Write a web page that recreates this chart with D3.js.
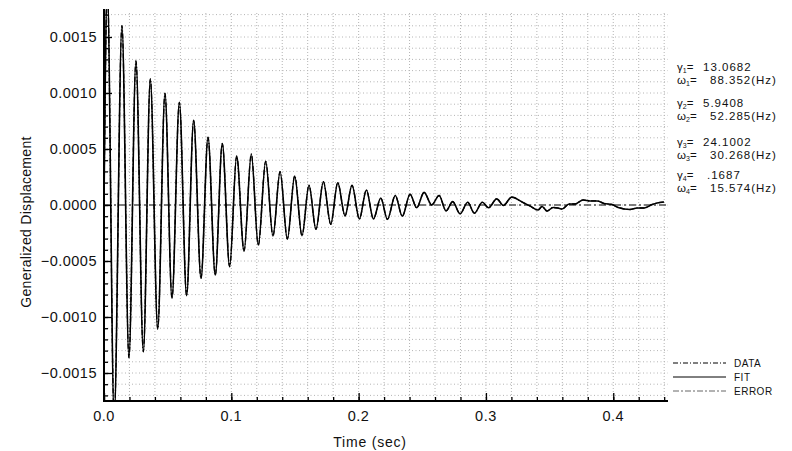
<!DOCTYPE html>
<html>
<head>
<meta charset="utf-8">
<script src="https://d3js.org/d3.v7.min.js"></script>
<style>
  body { margin: 0; background: #fff; }
  text { font-family: Arial, "Liberation Sans", sans-serif; fill: #111; }
</style>
</head>
<body>
<script>

// Fit curve: turning points (time in s, displacement)
var fitTime = [0, 0.0026, 0.0080, 0.0141, 0.0196, 0.0251, 0.0309, 0.0364, 0.0422, 0.0479,
  0.0534, 0.0592, 0.0649, 0.0704, 0.0762, 0.0817, 0.0874, 0.0929, 0.0987, 0.1042,
  0.1100, 0.1157, 0.1212, 0.1270, 0.1327, 0.1383, 0.1440, 0.1498, 0.1555, 0.1610,
  0.1665, 0.1723, 0.1781, 0.1836, 0.1893, 0.1948, 0.2006, 0.2061, 0.2116, 0.2174,
  0.2226, 0.2288, 0.2343, 0.2404, 0.2456, 0.2514, 0.2574, 0.2632, 0.2687, 0.2739,
  0.2797, 0.2857, 0.2909, 0.2972, 0.3020, 0.3085, 0.3137, 0.3202, 0.3291, 0.3346,
  0.3409, 0.3441, 0.3480, 0.3527, 0.3566, 0.3598, 0.3653, 0.3700, 0.3763, 0.3818,
  0.3873, 0.3928, 0.3991, 0.4038, 0.4132, 0.4187, 0.4242, 0.4305, 0.4344, 0.4399];
var fitValue = [0, 0.00195, -0.00190, 0.001601, -0.001363, 0.001286, -0.001310, 0.001125, -0.001107, 0.000997,
  -0.000833, 0.000917, -0.000810, 0.000756, -0.000655, 0.000604, -0.000625, 0.000548, -0.000550, 0.000436,
  -0.000411, 0.000455, -0.000360, 0.000390, -0.000277, 0.000297, -0.000304, 0.000259, -0.000274, 0.000176,
  -0.000217, 0.000208, -0.000172, 0.000199, -0.000096, 0.000176, -0.000125, 0.000134, -0.000125, 0.000062,
  -0.000128, 0.000085, -0.000100, 0.000096, -0.000025, 0.000113, 0.000000, 0.000085, -0.000052, 0.000030,
  -0.000078, 0.000024, -0.000073, 0.000024, -0.000025, 0.000055, -0.000004, 0.000070, 0.000022, -0.000009,
  -0.000045, -0.000013, -0.000054, -0.000022, -0.000027, -0.000036, 0.000009, 0.000009, 0.000045, 0.000036,
  0.000036, 0.000013, 0.000004, -0.000022, -0.000040, -0.000027, -0.000027, 0.000004, 0.000018, 0.000027];

// Error curve stays on zero across the record
var errorTime = [0, 0.443];
var errorValue = [0, 0];

// Tick labels
var xTicks = [0, 0.1, 0.2, 0.3, 0.4];
var yTicks = [-0.0015, -0.0010, -0.0005, 0, 0.0005, 0.0010, 0.0015];

// Fitted parameters
var modeGamma = ["13.0682", "5.9408", "24.1002", ".1687"];
var modeOmega = ["88.352(Hz)", "52.285(Hz)", "30.268(Hz)", "15.574(Hz)"];
var legendNames = ["DATA", "FIT", "ERROR"];

var W = 792, H = 451;
var plotL = 104, plotR = 668, plotT = 9, plotB = 401;

var x = d3.scaleLinear().domain([0, 0.443]).range([plotL, plotR]);
var y = d3.scaleLinear().domain([-0.00175, 0.00175]).range([plotB, plotT]);

var svg = d3.select("body").append("svg")
    .attr("width", W)
    .attr("height", H);

// grid, dotted
var gx = d3.range(1, 23).map(function(i) { return i * 0.02; });
var gy = d3.range(-17, 18).map(function(i) { return i * 0.0001; });

svg.append("g").selectAll("line").data(gx).enter().append("line")
    .attr("x1", function(d) { return x(d); }).attr("x2", function(d) { return x(d); })
    .attr("y1", plotT + 4).attr("y2", plotB)
    .attr("stroke", "#b4b4b4").attr("stroke-width", 1)
    .attr("stroke-dasharray", "1,2");

svg.append("g").selectAll("line").data(gy).enter().append("line")
    .attr("x1", plotL).attr("x2", plotR)
    .attr("y1", function(d) { return y(d); }).attr("y2", function(d) { return y(d); })
    .attr("stroke", "#b4b4b4").attr("stroke-width", 1)
    .attr("stroke-dasharray", "1,2.5");

// clip for the curves
svg.append("clipPath").attr("id", "plot")
  .append("rect").attr("x", plotL).attr("y", plotT)
    .attr("width", plotR - plotL).attr("height", plotB - plotT);

var line = d3.line()
    .x(function(d) { return x(d[0]); })
    .y(function(d) { return y(d[1]); })
    .curve(d3.curveMonotoneX);

var fitPts = d3.zip(fitTime, fitValue);
var errPts = d3.zip(errorTime, errorValue);

// error (dash-dot, grey)
svg.append("path").datum(errPts)
    .attr("clip-path", "url(#plot)")
    .attr("d", line)
    .attr("fill", "none").attr("stroke", "#555").attr("stroke-width", 1.3)
    .attr("stroke-dasharray", "7,3,2,3");

// data (dash-dot) sits under the fit
svg.append("path").datum(fitPts)
    .attr("clip-path", "url(#plot)")
    .attr("d", line)
    .attr("fill", "none").attr("stroke", "#000").attr("stroke-width", 1.3)
    .attr("stroke-dasharray", "5,2,1,2");

// fit
svg.append("path").datum(fitPts)
    .attr("clip-path", "url(#plot)")
    .attr("d", line)
    .attr("fill", "none").attr("stroke", "#000").attr("stroke-width", 1.6);

// axes with inward ticks
var xMinor = d3.range(0, 23).map(function(i) { return i * 0.02; });
var yMinor = d3.range(-17, 18).map(function(i) { return i * 0.0001; });

svg.append("g").attr("transform", "translate(0," + plotB + ")")
    .call(d3.axisTop(x).tickValues(xMinor).tickSize(4).tickFormat(""))
    .call(function(g) { g.select(".domain").remove(); })
    .selectAll("line").attr("stroke", "#000").attr("stroke-width", 1.3);

svg.append("g").attr("transform", "translate(0," + plotB + ")")
    .call(d3.axisTop(x).tickValues(xTicks).tickSize(8).tickFormat(""))
    .call(function(g) { g.select(".domain").remove(); })
    .selectAll("line").attr("stroke", "#000").attr("stroke-width", 1.3);

svg.append("g").attr("transform", "translate(" + plotL + ",0)")
    .call(d3.axisRight(y).tickValues(yMinor).tickSize(4).tickFormat(""))
    .call(function(g) { g.select(".domain").remove(); })
    .selectAll("line").attr("stroke", "#000").attr("stroke-width", 1.3);

svg.append("g").attr("transform", "translate(" + plotL + ",0)")
    .call(d3.axisRight(y).tickValues(yTicks).tickSize(8).tickFormat(""))
    .call(function(g) { g.select(".domain").remove(); })
    .selectAll("line").attr("stroke", "#000").attr("stroke-width", 1.3);

// axis lines
svg.append("line").attr("x1", plotL - 0.5).attr("x2", plotR).attr("y1", plotB).attr("y2", plotB)
    .attr("stroke", "#000").attr("stroke-width", 2);
svg.append("line").attr("x1", plotL).attr("x2", plotL).attr("y1", plotT).attr("y2", plotB + 1)
    .attr("stroke", "#000").attr("stroke-width", 2);

// tick labels
var fx = d3.format(".1f"), fy = d3.format(".4f");
svg.append("g").selectAll("text").data(xTicks).enter().append("text")
    .attr("x", function(d) { return x(d); })
    .attr("y", 421)
    .attr("text-anchor", "middle")
    .style("font-size", "14.5px")
    .style("letter-spacing", "0.5px")
    .text(function(d) { return fx(d); });

svg.append("g").selectAll("text").data(yTicks).enter().append("text")
    .attr("x", 97)
    .attr("y", function(d) { return y(d) + 5; })
    .attr("text-anchor", "end")
    .style("font-size", "14.5px")
    .style("letter-spacing", "0.5px")
    .text(function(d) { return fy(d).replace("-0.0000", "0.0000"); });

// axis titles
svg.append("text")
    .attr("transform", "translate(31,222) rotate(-90)")
    .attr("text-anchor", "middle")
    .style("font-size", "14px")
    .style("letter-spacing", "0.3px")
    .text("Generalized Displacement");

svg.append("text")
    .attr("x", 370).attr("y", 447)
    .attr("text-anchor", "middle")
    .style("font-size", "14px")
    .style("letter-spacing", "0.8px")
    .text("Time (sec)");

// parameter annotations
var gammaY = [71, 107, 146, 179];
modeGamma.forEach(function(v, i) {
  var t = svg.append("text").attr("x", 677).attr("y", gammaY[i]).style("font-size", "11.5px");
  t.append("tspan").text("\u03b3");
  t.append("tspan").attr("dy", 2).style("font-size", "7px").text(i + 1);
  t.append("tspan").attr("dy", -2).text("=");
  svg.append("text").attr("x", v.charAt(0) === "." ? 707 : 703).attr("y", gammaY[i])
      .style("font-size", "11.5px").style("letter-spacing", "1px").text(v);

  var o = svg.append("text").attr("x", 677).attr("y", gammaY[i] + 13).style("font-size", "11.5px");
  o.append("tspan").text("\u03c9");
  o.append("tspan").attr("dy", 2).style("font-size", "7px").text(i + 1);
  o.append("tspan").attr("dy", -2).text("=");
  svg.append("text").attr("x", 710).attr("y", gammaY[i] + 13)
      .style("font-size", "11.5px").style("letter-spacing", "1px").text(modeOmega[i]);
});

// legend
var legendY = [363, 377, 391];
var legendDash = ["5,2,1,2", null, "6,2,2,2"];
var legendColor = ["#000", "#000", "#666"];
legendNames.forEach(function(n, i) {
  svg.append("line")
      .attr("x1", 673).attr("x2", 726)
      .attr("y1", legendY[i]).attr("y2", legendY[i])
      .attr("stroke", legendColor[i]).attr("stroke-width", 1)
      .attr("stroke-dasharray", legendDash[i]);
  svg.append("text")
      .attr("x", 734).attr("y", legendY[i] + 4)
      .style("font-size", "10px")
      .style("letter-spacing", "0.5px")
      .text(n);
});

</script>
</body>
</html>
